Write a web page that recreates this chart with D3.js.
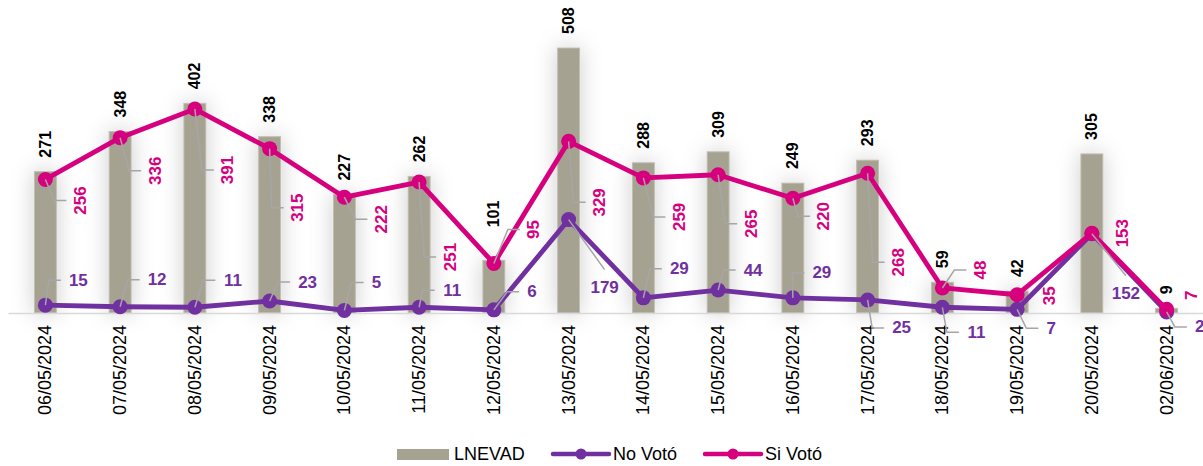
<!DOCTYPE html>
<html>
<head>
<meta charset="utf-8">
<script src="https://cdn.jsdelivr.net/npm/d3@7"></script>
<style>
  body { margin: 0; background: #fff; }
  text { font-family: Arial, "Liberation Sans", sans-serif; }
</style>
</head>
<body>
<div id="chart"></div>
<script>
// chart data
const dates = ["06/05/2024", "07/05/2024", "08/05/2024", "09/05/2024", "10/05/2024",
               "11/05/2024", "12/05/2024", "13/05/2024", "14/05/2024", "15/05/2024",
               "16/05/2024", "17/05/2024", "18/05/2024", "19/05/2024", "20/05/2024",
               "02/06/2024"];
const lnevad = [271, 348, 402, 338, 227, 262, 101, 508, 288, 309, 249, 293, 59, 42, 305, 9];
const noVoto = [15, 12, 11, 23, 5, 11, 6, 179, 29, 44, 29, 25, 11, 7, 152, 2];
const siVoto = [256, 336, 391, 315, 222, 251, 95, 329, 259, 265, 220, 268, 48, 35, 153, 7];

// label placement nudges (dx, dy from the point), layout only
const siNudge = [[35,21],[35,33],[33,61],[28,59],[37,22],[31,75],[40,-34],[31,61],
                 [36,39],[33,49],[31,18],[31,89],[38,-18],[32,1],[31,0],[25,-14]];
const noNudge = [[33,-25],[37,-27],[38,-27],[38,-19],[32,-28],[33,-17],[38,-18],[36,68],
                 [36,-29],[35,-20],[29,-25],[34,28],[34,25],[34,19],[34,60],[33,15]];
const barLift = [0, 0, 0, 0, 0, 0, 19, 0, 0, 0, 0, 0, 0, 0, 0, 0];

const WIDTH = 1203;
const HEIGHT = 466;
const BASE_Y = 313;
const BAR_W = 22;

const BAR_COLOR = "#a6a292";
const NO_COLOR = "#7030a0";
const SI_COLOR = "#d6007f";
const LEADER = "#a6a6a6";

const svg = d3.select("#chart")
  .append("svg")
    .attr("width", WIDTH)
    .attr("height", HEIGHT);

// soft halo behind the bars
const defs = svg.append("defs");
const halo = defs.append("filter")
    .attr("id", "halo")
    .attr("filterUnits", "userSpaceOnUse")
    .attr("x", 0).attr("y", 0)
    .attr("width", WIDTH).attr("height", HEIGHT);
halo.append("feGaussianBlur")
    .attr("in", "SourceAlpha")
    .attr("stdDeviation", 11)
    .attr("result", "blur");
halo.append("feFlood")
    .attr("flood-color", "#000")
    .attr("flood-opacity", 0.2);
halo.append("feComposite")
    .attr("in2", "blur")
    .attr("operator", "in")
    .attr("result", "shadow");
const merge = halo.append("feMerge");
merge.append("feMergeNode").attr("in", "shadow");
merge.append("feMergeNode").attr("in", "SourceGraphic");

const x = d3.scaleBand()
  .domain(dates)
  .range([8, 1204])
  .padding(0);

const y = d3.scaleLinear()
  .domain([0, 600])
  .range([BASE_Y, 0]);

const cx = (i) => x(dates[i]) + x.bandwidth() / 2;

// bars
svg.append("g")
    .attr("filter", "url(#halo)")
  .selectAll("rect")
  .data(lnevad)
  .enter()
  .append("rect")
    .attr("x", (d, i) => cx(i) - BAR_W / 2)
    .attr("y", (d) => y(d))
    .attr("width", BAR_W)
    .attr("height", (d) => BASE_Y - y(d))
    .attr("fill", BAR_COLOR)
    .attr("stroke", "#c2bfb3")
    .attr("stroke-width", 1);

// x axis
const xAxis = svg.append("g")
    .attr("transform", "translate(0," + BASE_Y + ")")
    .call(d3.axisBottom(x).tickSize(0).tickPadding(0));
xAxis.select(".domain")
    .attr("stroke", "#d9d9d9")
    .attr("stroke-width", 1.5);
xAxis.selectAll(".tick text")
    .attr("font-size", "18px")
    .attr("fill", "#000")
    .attr("text-anchor", "end")
    .attr("dominant-baseline", "central")
    .attr("dy", null)
    .attr("y", 0)
    .attr("transform", "translate(0,12) rotate(-90)");

// lines
const line = d3.line()
  .x((d, i) => cx(i))
  .y((d) => y(d));

function drawSeries(values, color) {
  svg.append("path")
      .datum(values)
      .attr("d", line)
      .attr("fill", "none")
      .attr("stroke", color)
      .attr("stroke-width", 4.8)
      .attr("stroke-linejoin", "round");

  svg.append("g")
    .selectAll("circle")
    .data(values)
    .enter()
    .append("circle")
      .attr("cx", (d, i) => cx(i))
      .attr("cy", (d) => y(d))
      .attr("r", 7.5)
      .attr("fill", color);
}

drawSeries(noVoto, NO_COLOR);
drawSeries(siVoto, SI_COLOR);

function drawLeader(points) {
  svg.append("polyline")
      .attr("points", points.map(p => p.join(",")).join(" "))
      .attr("fill", "none")
      .attr("stroke", LEADER)
      .attr("stroke-width", 1.5);
}

// leader line from point to a label whose left edge is at lx, centred on ly
function leader(px, py, lx, ly) {
  if (Math.hypot(lx - px, ly - py) < 28) return;
  drawLeader([[px, py], [lx - 20, ly], [lx - 8, ly]]);
}

// data labels
const labels = svg.append("g").attr("class", "labels");

siVoto.forEach((d, i) => {
  const px = cx(i), py = y(d);
  const lx = px + siNudge[i][0], ly = py + siNudge[i][1];
  leader(px, py, lx - 6, ly);
});
noVoto.forEach((d, i) => {
  const px = cx(i), py = y(d);
  const lx = px + noNudge[i][0], ly = py + noNudge[i][1];
  const w = String(d).length * 9.5;
  if (noNudge[i][1] > 40) {
    // label well below the point: straight line to its top
    drawLeader([[px, py], [lx, ly - 18]]);
  } else {
    leader(px, py, lx - w / 2, ly);
  }
});

lnevad.forEach((d, i) => {
  labels.append("text")
      .attr("transform", "translate(" + cx(i) + "," + (y(d) - 14 - barLift[i]) + ") rotate(-90)")
      .attr("text-anchor", "start")
      .attr("dominant-baseline", "central")
      .attr("font-size", "16px")
      .attr("font-weight", "bold")
      .attr("fill", "#000")
      .text(d);
});

siVoto.forEach((d, i) => {
  labels.append("text")
      .attr("transform", "translate(" + (cx(i) + siNudge[i][0]) + "," + (y(d) + siNudge[i][1]) + ") rotate(-90)")
      .attr("text-anchor", "middle")
      .attr("dominant-baseline", "central")
      .attr("font-size", "17px")
      .attr("font-weight", "bold")
      .attr("fill", SI_COLOR)
      .text(d);
});

noVoto.forEach((d, i) => {
  labels.append("text")
      .attr("x", cx(i) + noNudge[i][0])
      .attr("y", y(d) + noNudge[i][1])
      .attr("text-anchor", "middle")
      .attr("dominant-baseline", "central")
      .attr("font-size", "17px")
      .attr("font-weight", "bold")
      .attr("fill", NO_COLOR)
      .text(d);
});

// legend
const legend = svg.append("g").attr("transform", "translate(0,454)");
legend.append("rect")
    .attr("x", 397).attr("y", -5)
    .attr("width", 52).attr("height", 11)
    .attr("fill", BAR_COLOR);
legend.append("text")
    .attr("x", 454).attr("y", 0)
    .attr("dominant-baseline", "central")
    .attr("font-size", "18px")
    .text("LNEVAD");

const legendLines = [
  {name: "No Votó", color: NO_COLOR, x0: 553},
  {name: "Si Votó", color: SI_COLOR, x0: 705}
];
legendLines.forEach((s) => {
  legend.append("line")
      .attr("x1", s.x0).attr("x2", s.x0 + 56)
      .attr("y1", 0).attr("y2", 0)
      .attr("stroke", s.color)
      .attr("stroke-width", 4.5)
      .attr("stroke-linecap", "round");
  legend.append("circle")
      .attr("cx", s.x0 + 28).attr("cy", 0)
      .attr("r", 5.5)
      .attr("fill", s.color);
  legend.append("text")
      .attr("x", s.x0 + 60).attr("y", 0)
      .attr("dominant-baseline", "central")
      .attr("font-size", "18px")
      .text(s.name);
});
</script>
</body>
</html>
